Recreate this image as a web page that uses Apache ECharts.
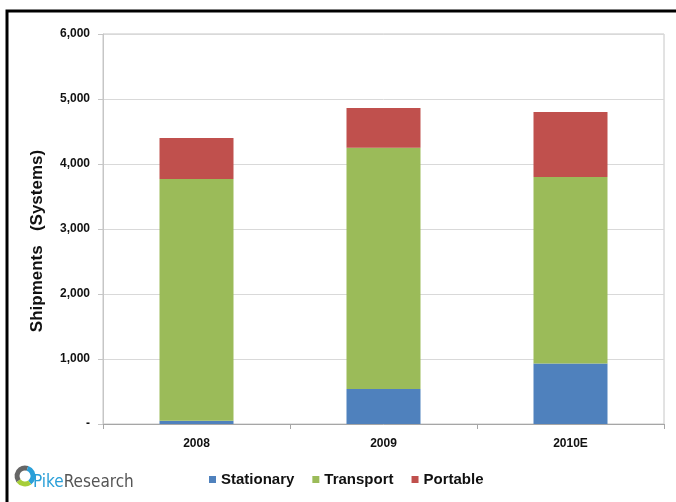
<!DOCTYPE html>
<html>
<head>
<meta charset="utf-8">
<script src="https://cdn.jsdelivr.net/npm/echarts@6/dist/echarts.min.js"></script>
<style>
  html, body { margin: 0; padding: 0; background: #fff; }
  #chart { width: 676px; height: 502px; }
</style>
</head>
<body>
<div id="chart"></div>
<script>
// shipments by year (systems)
const categories = ['2008', '2009', '2010E']
const stationary = [50, 540, 930]
const transport = [3720, 3710, 2870]
const portable = [630, 610, 1000]

const font = "'Liberation Sans', Arial, sans-serif"
const narrow = "'Liberation Sans Narrow', 'DejaVu Sans Condensed', sans-serif"

const chart = echarts.init(document.getElementById('chart'))

const option = {
  animation: false,
  color: ['#4f81bd', '#9bbb59', '#c0504d'],
  grid: {
    left: 103,
    right: 12,
    top: 34,
    bottom: 78,
    show: true,
    borderColor: '#c6c6c6',
    borderWidth: 1
  },
  legend: {
    left: 204,
    top: 467,
    itemWidth: 7,
    itemHeight: 7,
    itemGap: 18,
    icon: 'rect',
    textStyle: { fontFamily: font, fontWeight: 'bold', fontSize: 15, color: '#111' },
    data: ['Stationary', 'Transport', 'Portable']
  },
  xAxis: {
    type: 'category',
    data: categories,
    axisLine: { lineStyle: { color: '#a6a6a6' } },
    axisTick: { show: true, length: 5, lineStyle: { color: '#a6a6a6' } },
    axisLabel: { margin: 14, fontFamily: font, fontWeight: 'bold', fontSize: 12, color: '#111' }
  },
  yAxis: {
    type: 'value',
    min: 0,
    max: 6000,
    interval: 1000,
    axisLine: { show: true, lineStyle: { color: '#c6c6c6' } },
    axisTick: { show: true, length: 5, lineStyle: { color: '#c6c6c6' } },
    splitLine: { lineStyle: { color: '#d9d9d9' } },
    axisLabel: {
      margin: 13,
      fontFamily: font,
      fontWeight: 'bold',
      fontSize: 12,
      color: '#111',
      formatter: function(v) {
        return v === 0 ? '-' : v.toLocaleString('en-US')
      }
    }
  },
  graphic: [
    {
      type: 'text',
      x: 37,
      y: 241,
      rotation: Math.PI / 2,
      style: {
        text: 'Shipments   (Systems)',
        fontFamily: font,
        fontWeight: 'bold',
        fontSize: 17,
        fill: '#111',
        align: 'center',
        verticalAlign: 'middle'
      }
    },
    // logo swirl
    { type: 'arc', shape: { cx: 25, cy: 476, r: 8, startAngle: Math.PI * 0.8, endAngle: Math.PI * 1.6 }, style: { stroke: '#666', lineWidth: 5, fill: null } },
    { type: 'arc', shape: { cx: 25, cy: 476, r: 8, startAngle: Math.PI * 1.6, endAngle: Math.PI * 2.3 }, style: { stroke: '#2a9fd8', lineWidth: 5, fill: null } },
    { type: 'arc', shape: { cx: 25, cy: 476, r: 8, startAngle: Math.PI * 0.3, endAngle: Math.PI * 0.8 }, style: { stroke: '#a6ce39', lineWidth: 5, fill: null } },
    {
      type: 'text',
      x: 33,
      y: 483,
      style: {
        text: '{a|Pike}{b|Research}',
        verticalAlign: 'middle',
        rich: {
          a: { fontFamily: narrow, fontSize: 17, fill: '#2a9fd8' },
          b: { fontFamily: narrow, fontSize: 17, fill: '#555' }
        }
      }
    },
    // outer frame
    {
      type: 'rect',
      z: 100,
      shape: { x: 7, y: 11, width: 760, height: 600 },
      style: { fill: null, stroke: '#000', lineWidth: 3 }
    }
  ],
  series: [
    { name: 'Stationary', type: 'bar', stack: 'total', barWidth: 74, data: stationary },
    { name: 'Transport', type: 'bar', stack: 'total', barWidth: 74, data: transport },
    { name: 'Portable', type: 'bar', stack: 'total', barWidth: 74, data: portable }
  ]
}

chart.setOption(option)
</script>
</body>
</html>
